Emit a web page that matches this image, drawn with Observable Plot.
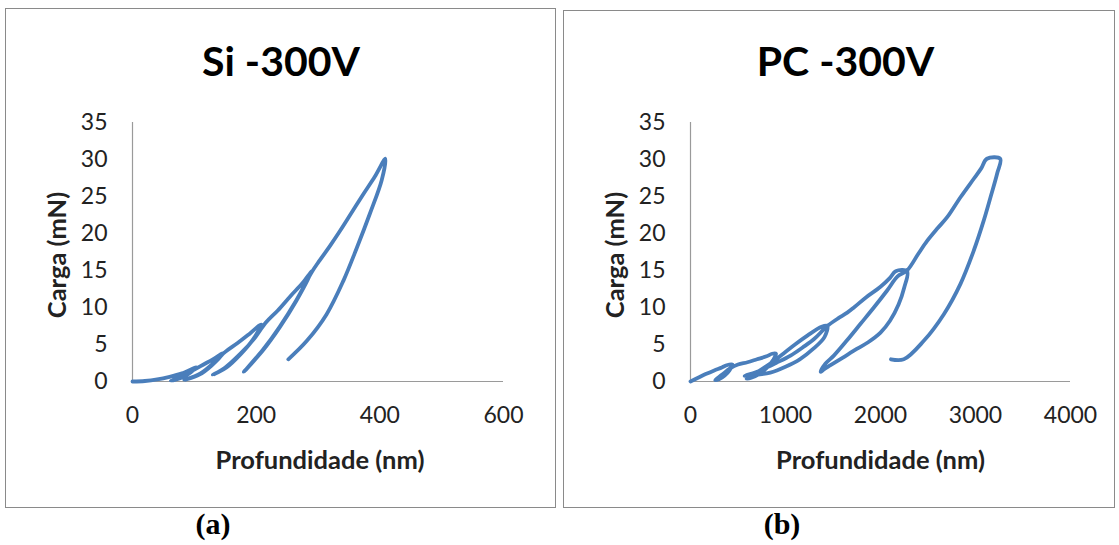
<!DOCTYPE html>
<html><head><meta charset="utf-8">
<script src="https://cdn.jsdelivr.net/npm/d3@7"></script>
<script src="https://cdn.jsdelivr.net/npm/@observablehq/plot@0.6"></script>
<style>
body{margin:0;background:#fff;width:1119px;height:545px;position:relative;overflow:hidden;font-family:Lato,sans-serif}
.box{position:absolute;border:1px solid #8a8a8a;box-sizing:border-box}
.panel{position:absolute;top:0}
.cap{position:absolute;font-family:"Liberation Serif","Times New Roman",serif;font-weight:bold;font-size:30px;line-height:1;transform:translateX(-50%)}
</style></head><body>
<div class="box" style="left:5px;top:8px;width:551px;height:500px"></div>
<div class="box" style="left:563px;top:10px;width:552px;height:498px"></div>
<div id="a" class="panel" style="left:0"></div>
<div id="b" class="panel" style="left:560px"></div>
<div class="cap" style="left:213px;top:509px">(a)</div>
<div class="cap" style="left:782px;top:509px">(b)</div>
<script>
const yTicks = [0, 5, 10, 15, 20, 25, 30, 35];
const siTicks = [0, 200, 400, 600];
const pcTicks = [0, 1000, 2000, 3000, 4000];
const siTitle = "Si -300V";
const pcTitle = "PC -300V";
const xLabel = "Profundidade (nm)";
const yLabel = "Carga (mN)";

const siDepth = [0, 20, 40, 60, 80, 103, 95, 82, 62, 78, 100, 115, 130, 146, 135, 112, 84, 110, 135, 150, 170, 190, 208, 195, 175, 152, 130, 150, 175, 197, 215, 235, 255, 275, 290, 265, 238, 211, 180, 211, 238, 265, 290, 303, 320, 336, 355, 374, 392, 409, 403, 384, 363, 341, 314, 282, 252];
const siLoad  = [0, 0.07, 0.28, 0.63, 1.1, 1.9, 1.3, 0.6, 0.1, 0.6, 1.6, 2.3, 3.0, 3.8, 2.7, 1.1, 0.2, 1.1, 2.8, 4.0, 5.2, 6.5, 7.7, 5.7, 3.7, 1.9, 0.9, 1.9, 3.8, 5.8, 7.9, 9.6, 11.5, 13.3, 14.9, 10.9, 7.3, 4.2, 1.3, 4.3, 7.4, 11.0, 14.8, 16.4, 18.4, 20.4, 22.9, 25.4, 27.7, 30.1, 27.2, 22.7, 18.1, 13.6, 9.1, 5.5, 3.0];

const pcDepth = [0, 80, 160, 250, 330, 380, 440, 410, 360, 300, 260, 330, 420, 500, 600, 700, 800, 860, 900, 870, 800, 720, 640, 590, 680, 780, 880, 980, 1100, 1230, 1380, 1440, 1410, 1300, 1150, 1000, 840, 700, 600, 570, 680, 772, 900, 1053, 1180, 1298, 1400, 1450, 1550, 1650, 1720, 1850, 2000, 2100, 2160, 2280, 2250, 2190, 2100, 2000, 1870, 1750, 1600, 1474, 1400, 1370, 1420, 1509, 1650, 1790, 1930, 2070, 2180, 2280, 2400, 2491, 2600, 2702, 2842, 2982, 3060, 3120, 3260, 3228, 3158, 3088, 2982, 2842, 2667, 2456, 2245, 2110];
const pcLoad  = [0, 0.5, 1.0, 1.5, 1.9, 2.2, 2.3, 1.5, 0.8, 0.3, 0.2, 0.9, 1.8, 2.3, 2.6, 3.0, 3.4, 3.75, 3.75, 2.9, 1.8, 1.0, 0.5, 0.4, 1.1, 1.9, 2.8, 3.8, 5.0, 6.2, 7.4, 7.5, 6.0, 4.5, 3.0, 2.0, 1.2, 0.9, 0.75, 0.75, 1.2, 1.7, 2.5, 3.5, 4.6, 5.7, 7.0, 7.6, 8.5, 9.3, 10.0, 11.4, 12.8, 14.0, 14.9, 14.9, 12.7, 10.4, 8.2, 6.6, 5.3, 4.4, 3.2, 2.2, 1.6, 1.3, 2.4, 3.5, 5.6, 7.8, 10.0, 12.3, 14.2, 15.0, 17.3, 19.0, 20.7, 22.2, 24.9, 27.4, 28.8, 30.1, 30.1, 28.1, 24.9, 21.8, 17.7, 13.2, 9.1, 5.5, 3.0, 3.0];

function panel(el, depth, load, o) {
  const data = depth.map((d, i) => ({depth: d, load: load[i]}));
  const chart = Plot.plot({
    width: o.width, height: 507,
    marginLeft: o.left, marginRight: o.width - o.xEnd, marginTop: 122, marginBottom: 126,
    x: {domain: [0, o.xMax], label: null},
    y: {domain: [0, 35], label: null},
    style: {fontFamily: "Lato, sans-serif", background: "transparent", overflow: "visible", color: "#222"},
    marks: [
      Plot.axisY({ticks: yTicks, tickSize: 0, tickPadding: 25, fontSize: 23, tickFormat: d => String(d), label: null}),
      Plot.axisX({ticks: o.ticks, tickSize: 0, tickPadding: 25, fontSize: 23, tickFormat: d => String(d), label: null}),
      Plot.ruleX([0], {stroke: "#9a9a9a", strokeWidth: 1.2}),
      Plot.ruleY([0], {stroke: "#9a9a9a", strokeWidth: 1.2}),
      Plot.line(data, {x: "depth", y: "load", stroke: "#4a7ebb", strokeWidth: 3.8, curve: "catmull-rom", strokeLinejoin: "round", strokeLinecap: "round"}),
      Plot.text([o.title], {text: d => d, frameAnchor: "top", textAnchor: "middle", lineAnchor: "middle", dx: o.titleDx, dy: -60, fontSize: 41, fontWeight: "bold", fill: "#000"}),
      Plot.text([yLabel], {text: d => d, frameAnchor: "left", textAnchor: "middle", lineAnchor: "middle", dx: -75, dy: 3, rotate: -90, fontSize: 25.5, fontWeight: "bold", fill: "#222"}),
      Plot.text([xLabel], {text: d => d, frameAnchor: "bottom", textAnchor: "middle", lineAnchor: "middle", dx: o.xlDx, dy: 79, fontSize: 25.5, fontWeight: "bold", fill: "#222"})
    ]
  });
  document.getElementById(el).appendChild(chart);
}

panel("a", siDepth, siLoad, {width: 560, left: 132, xEnd: 503, xMax: 600, ticks: siTicks, title: siTitle, titleDx: -37, xlDx: 2});
panel("b", pcDepth, pcLoad, {width: 559, left: 130, xEnd: 510, xMax: 4000, ticks: pcTicks, title: pcTitle, titleDx: -35, xlDx: 0});
</script>
</body></html>
